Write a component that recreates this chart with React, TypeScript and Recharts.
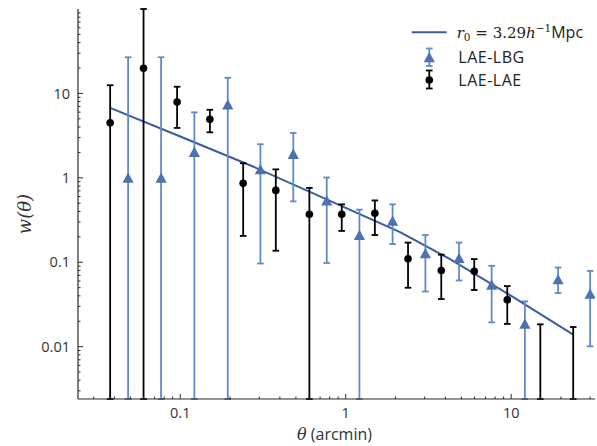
import React from 'react';
import { ComposedChart, Line, Scatter, ErrorBar, XAxis, YAxis, Legend } from 'recharts';

// model curve
const thetaFit = [0.038, 0.1, 0.264, 1, 2.13, 4.27, 10, 23.7];
const wFit = [6.7, 3.09, 1.41, 0.44, 0.227, 0.109, 0.04, 0.0139];

// LAE-LBG cross-correlation (0.0024 / 100 = bar runs off the axes)
const thetaLBG = [0.0484, 0.0766, 0.1217, 0.1937, 0.305, 0.482, 0.768, 1.21, 1.92, 3.03, 4.84, 7.62, 12.1, 19.2, 30.0];
const wLBG = [1.0, 1.0, 2.03, 7.4, 1.26, 1.92, 0.54, 0.21, 0.31, 0.128, 0.112, 0.054, 0.0187, 0.063, 0.0424];
const wLBGLow = [0.0024, 0.0024, 0.0024, 0.0024, 0.0966, 0.526, 0.098, 0.0024, 0.164, 0.045, 0.0608, 0.0194, 0.0024, 0.0432, 0.0101];
const wLBGHigh = [26.8, 26.8, 5.97, 15.3, 2.5, 3.4, 1.01, 0.42, 0.485, 0.21, 0.171, 0.0907, 0.0344, 0.0866, 0.079];

// LAE-LAE auto-correlation (last two points fall below the axis)
const thetaLAE = [0.0377, 0.06, 0.0957, 0.151, 0.24, 0.378, 0.603, 0.946, 1.5, 2.38, 3.78, 5.98, 9.47, 15.0, 23.7];
const wLAE = [4.5, 19.9, 7.9, 4.93, 0.86, 0.71, 0.37, 0.37, 0.38, 0.11, 0.08, 0.078, 0.036, 0.001, 0.001];
const wLAELow = [0.0024, 0.0024, 3.9, 3.46, 0.205, 0.137, 0.0024, 0.235, 0.21, 0.0499, 0.0367, 0.0469, 0.0186, 0.0024, 0.0024];
const wLAEHigh = [12.5, 100, 12, 6.4, 1.49, 1.26, 0.76, 0.485, 0.54, 0.171, 0.123, 0.109, 0.0522, 0.0184, 0.0171];

const xMajor = [0.1, 1, 10];
const xMinor = [0.03, 0.04, 0.05, 0.06, 0.07, 0.08, 0.09, 0.2, 0.3, 0.4, 0.5, 0.6, 0.7, 0.8, 0.9, 2, 3, 4, 5, 6, 7, 8, 9, 20, 30];
const yMajor = [0.01, 0.1, 1, 10];
const yMinor = [
  0.003, 0.004, 0.005, 0.006, 0.007, 0.008, 0.009, 0.02, 0.03, 0.04, 0.05, 0.06, 0.07, 0.08, 0.09,
  0.2, 0.3, 0.4, 0.5, 0.6, 0.7, 0.8, 0.9, 2, 3, 4, 5, 6, 7, 8, 9, 20, 30, 40, 50, 60, 70, 80, 90,
];

const X_DOMAIN: [number, number] = [0.0241, 32.1];
const Y_DOMAIN: [number, number] = [0.0024, 100];

const BLUE = '#4C72B0';
const BAR_BLUE = '#6189c9';
const LINE_BLUE = '#3b5ba0';
const AXIS = '#2b2b2b';
const TEXT = '#333333';
const SANS = '"Open Sans", "DejaVu Sans", sans-serif';
const SERIF = '"DejaVu Serif", serif';

const fitData = thetaFit.map((x, i) => ({ x, y: wFit[i] }));
const toRows = (xs: number[], ys: number[], lo: number[], hi: number[]) =>
  xs.map((x, i) => ({ x, y: ys[i], err: [ys[i] - lo[i], hi[i] - ys[i]] }));
const lbgData = toRows(thetaLBG, wLBG, wLBGLow, wLBGHigh);
const laeData = toRows(thetaLAE, wLAE, wLAELow, wLAEHigh);

const xTicks = [...xMajor, ...xMinor].sort((a, b) => a - b);
const yTicks = [...yMajor, ...yMinor].sort((a, b) => a - b);
const isMajor = (v: number, majors: number[]) => majors.some((m) => Math.abs(m - v) < 1e-9);

const MAJOR_LEN = 5;
const MINOR_LEN = 2.5;

const BottomTick = (props: any) => {
  const { x, y, payload } = props;
  const major = isMajor(payload.value, xMajor);
  return (
    <g>
      <line x1={x} x2={x} y1={y} y2={y - (major ? MAJOR_LEN : MINOR_LEN)} stroke={AXIS} />
      {major && (
        <text x={x} y={y + 19} textAnchor="middle" fontFamily={SANS} fontSize={14.5} fill={TEXT}>
          {String(payload.value)}
        </text>
      )}
    </g>
  );
};

const TopTick = (props: any) => {
  const { x, y, payload } = props;
  const major = isMajor(payload.value, xMajor);
  return <line x1={x} x2={x} y1={y} y2={y + (major ? MAJOR_LEN : MINOR_LEN)} stroke={AXIS} />;
};

const LeftTick = (props: any) => {
  const { x, y, payload } = props;
  const major = isMajor(payload.value, yMajor);
  return (
    <g>
      <line x1={x} x2={x + (major ? MAJOR_LEN : MINOR_LEN)} y1={y} y2={y} stroke={AXIS} />
      {major && (
        <text x={x - 8} y={y} dy="0.36em" textAnchor="end" fontFamily={SANS} fontSize={14.5} fill={TEXT}>
          {String(payload.value)}
        </text>
      )}
    </g>
  );
};

const RightTick = (props: any) => {
  const { x, y, payload } = props;
  const major = isMajor(payload.value, yMajor);
  return <line x1={x} x2={x - (major ? MAJOR_LEN : MINOR_LEN)} y1={y} y2={y} stroke={AXIS} />;
};

const TriangleDot = (p: any) =>
  p.payload.y < Y_DOMAIN[0] ? (
    <g />
  ) : (
    <polygon points={`${p.cx},${p.cy - 5.3} ${p.cx - 5.6},${p.cy + 5} ${p.cx + 5.6},${p.cy + 5}`} fill={BLUE} />
  );

const CircleDot = (p: any) =>
  p.payload.y < Y_DOMAIN[0] ? <g /> : <circle cx={p.cx} cy={p.cy} r={3.8} fill="#000" />;

const XTitle = (props: any) => {
  const vb = props.viewBox;
  return (
    <text x={vb.x + vb.width / 2 - 2} y={vb.y + 41} textAnchor="middle" fontSize={16} fill={TEXT}>
      <tspan fontFamily={SERIF} fontStyle="italic">θ</tspan>
      <tspan fontFamily={SANS}> (arcmin)</tspan>
    </text>
  );
};

const YTitle = (props: any) => {
  const vb = props.viewBox;
  const cx = 25;
  const cy = vb.y + vb.height / 2 + 10;
  return (
    <text
      x={cx}
      y={cy}
      dy="0.35em"
      textAnchor="middle"
      transform={`rotate(-90 ${cx} ${cy})`}
      fontFamily={SERIF}
      fontStyle="italic"
      fontSize={18}
      fill={TEXT}
    >
      w(θ)
    </text>
  );
};

const LegendBox = () => (
  <svg width={190} height={80} style={{ display: 'block', overflow: 'visible' }}>
    <line x1={6.7} x2={41.7} y1={17.3} y2={17.3} stroke={LINE_BLUE} strokeWidth={2} />
    <text x={51.7} y={17.3} dy="0.35em" fontSize={15} fill="#222">
      <tspan fontFamily={SERIF} fontStyle="italic">r</tspan>
      <tspan fontFamily={SERIF} fontSize={10.5} dy={3}>0</tspan>
      <tspan fontFamily={SERIF} dy={-3}> = 3.29</tspan>
      <tspan fontFamily={SERIF} fontStyle="italic">h</tspan>
      <tspan fontFamily={SERIF} fontSize={10.5} dy={-6}>−1</tspan>
      <tspan fontFamily={SANS} fontSize={16} dy={6}>Mpc</tspan>
    </text>
    <g stroke={BAR_BLUE} strokeWidth={1.8}>
      <line x1={24.3} x2={24.3} y1={33.5} y2={51} />
      <line x1={21} x2={27.6} y1={33.5} y2={33.5} />
      <line x1={21} x2={27.6} y1={51} y2={51} />
    </g>
    <polygon points="24.3,37 18.7,47.3 29.9,47.3" fill={BLUE} />
    <text x={53.3} y={42.3} dy="0.36em" fontFamily={SANS} fontSize={16} letterSpacing={0.5} fill="#222">
      LAE-LBG
    </text>
    <g stroke="#000" strokeWidth={1.8}>
      <line x1={24.3} x2={24.3} y1={55.5} y2={73.5} />
      <line x1={21} x2={27.6} y1={55.5} y2={55.5} />
      <line x1={21} x2={27.6} y1={73.5} y2={73.5} />
    </g>
    <circle cx={24.3} cy={65} r={3.8} fill="#000" />
    <text x={53.3} y={65} dy="0.36em" fontFamily={SANS} fontSize={16} letterSpacing={0.5} fill="#222">
      LAE-LAE
    </text>
  </svg>
);

export default function App() {
  return (
    <div style={{ position: 'absolute', left: 0, top: 0, width: 597, height: 446, background: '#fff' }}>
      <ComposedChart width={597} height={446} margin={{ top: 9, right: 2, bottom: 0, left: 0 }}>
        <XAxis
          xAxisId="bottom"
          dataKey="x"
          type="number"
          scale="log"
          domain={X_DOMAIN}
          allowDataOverflow
          ticks={xTicks}
          interval={0}
          height={47}
          tickSize={0}
          tickMargin={0}
          tickLine={false}
          tick={<BottomTick />}
          axisLine={{ stroke: AXIS, strokeWidth: 1.2 }}
          label={{ content: <XTitle /> }}
        />
        <XAxis
          xAxisId="top"
          orientation="top"
          dataKey="x"
          type="number"
          scale="log"
          domain={X_DOMAIN}
          allowDataOverflow
          ticks={xTicks}
          interval={0}
          height={0}
          tickSize={0}
          tickMargin={0}
          tickLine={false}
          tick={<TopTick />}
          axisLine={{ stroke: AXIS, strokeWidth: 1.2 }}
        />
        <YAxis
          yAxisId="left"
          type="number"
          scale="log"
          domain={Y_DOMAIN}
          allowDataOverflow
          ticks={yTicks}
          interval={0}
          width={78}
          tickSize={0}
          tickMargin={0}
          tickLine={false}
          tick={<LeftTick />}
          axisLine={{ stroke: AXIS, strokeWidth: 1.2 }}
          label={{ content: <YTitle /> }}
        />
        <YAxis
          yAxisId="right"
          orientation="right"
          type="number"
          scale="log"
          domain={Y_DOMAIN}
          allowDataOverflow
          ticks={yTicks}
          interval={0}
          width={0}
          tickSize={0}
          tickMargin={0}
          tickLine={false}
          tick={<RightTick />}
          axisLine={{ stroke: AXIS, strokeWidth: 1.2 }}
        />
        <Legend
          layout="vertical"
          align="center"
          verticalAlign="middle"
          wrapperStyle={{ left: 405, top: 15, width: 190, height: 80 }}
          content={<LegendBox />}
        />
        <Line
          xAxisId="bottom"
          yAxisId="left"
          data={fitData}
          dataKey="y"
          type="linear"
          stroke={LINE_BLUE}
          strokeWidth={2}
          dot={false}
          activeDot={false}
          isAnimationActive={false}
        />
        <Scatter
          xAxisId="bottom"
          yAxisId="left"
          data={lbgData}
          dataKey="y"
          shape={TriangleDot}
          isAnimationActive={false}
        >
          <ErrorBar dataKey="err" direction="y" width={3.3} stroke={BAR_BLUE} strokeWidth={1.8} />
        </Scatter>
        <Scatter
          xAxisId="bottom"
          yAxisId="left"
          data={laeData}
          dataKey="y"
          shape={CircleDot}
          isAnimationActive={false}
        >
          <ErrorBar dataKey="err" direction="y" width={3.3} stroke="#000" strokeWidth={1.8} />
        </Scatter>
      </ComposedChart>
    </div>
  );
}
